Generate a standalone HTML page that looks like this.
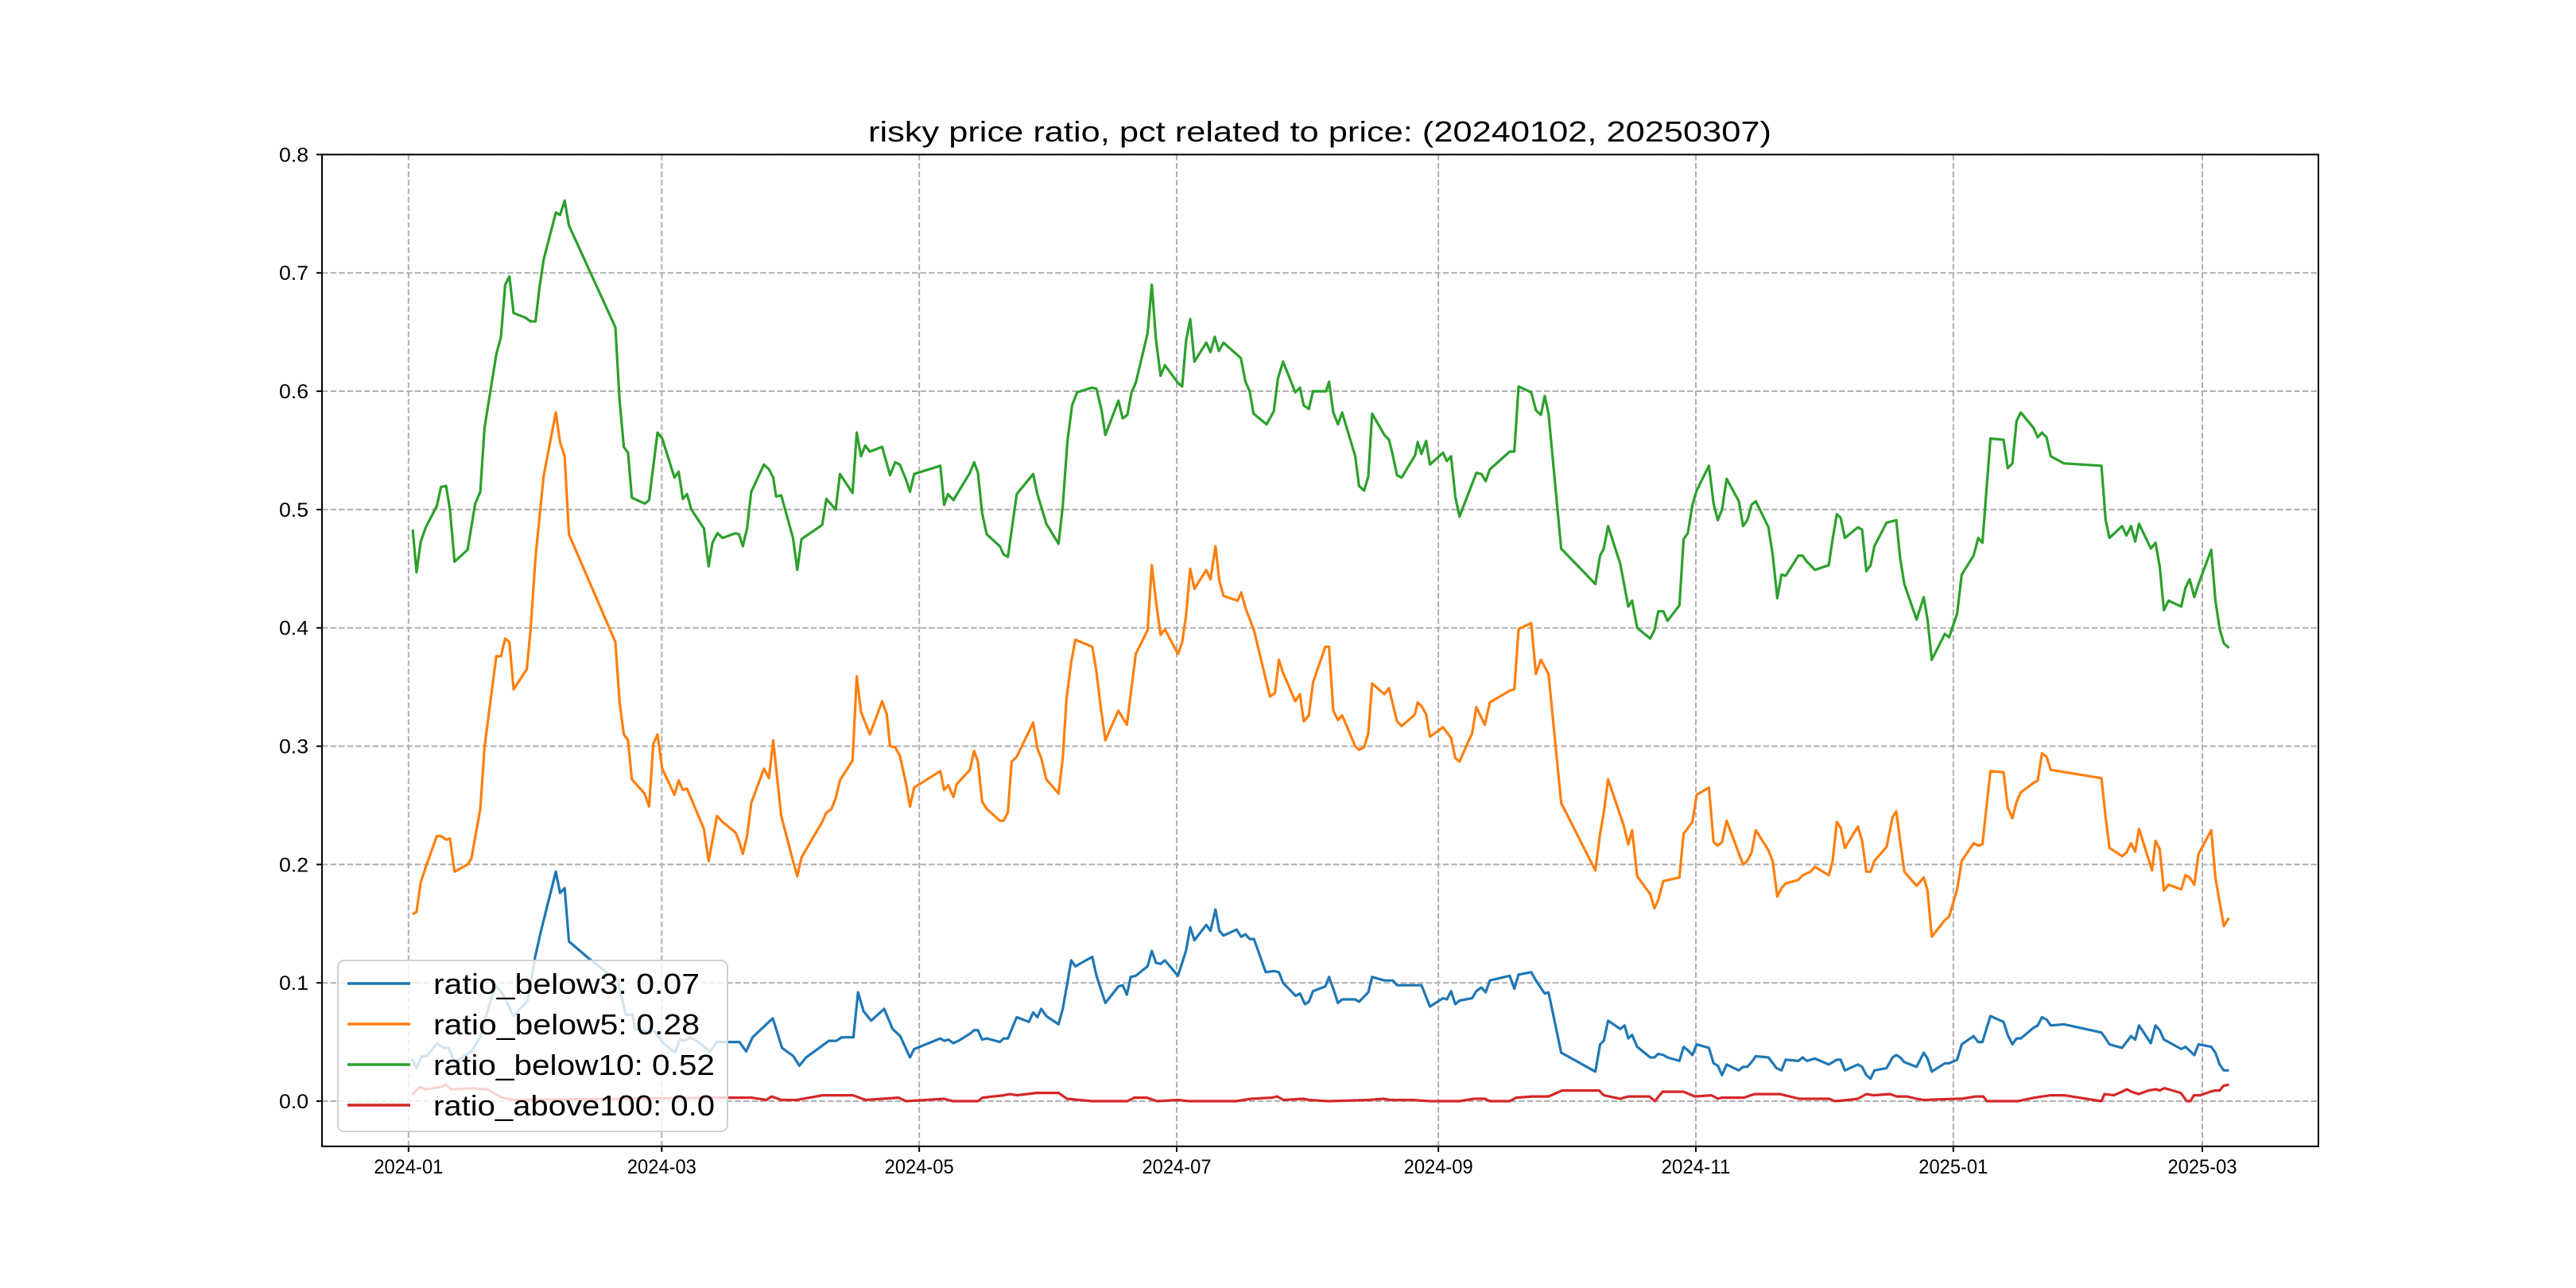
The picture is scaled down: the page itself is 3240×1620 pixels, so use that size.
<!DOCTYPE html>
<html><head><meta charset="utf-8"><title>risky price ratio</title>
<style>html,body{margin:0;padding:0;background:#fff;}svg{display:block;}</style></head>
<body>
<svg id="chart" xmlns="http://www.w3.org/2000/svg" width="3240" height="1620" viewBox="0 0 3240 1620" font-family="'WenQuanYi Zen Hei','Liberation Sans',sans-serif">
<rect x="0" y="0" width="3240" height="1620" fill="#fff"/>
<text x="1660" y="178" text-anchor="middle" font-size="36" textLength="1136" lengthAdjust="spacingAndGlyphs">risky price ratio, pct related to price: (20240102, 20250307)</text>
<g id="grid"></g>
<g id="series"></g>
<rect x="405" y="194.4" width="2511" height="1247.4" fill="none" stroke="#000" stroke-width="2"/>
<g id="ticks"></g>
<g>
<rect x="425" y="1208" width="490" height="215" rx="8" fill="#fff" fill-opacity="0.8" stroke="#d0d0d0" stroke-width="2"/>
<line x1="437" y1="1237" x2="516" y2="1237" stroke="#1f77b4" stroke-width="3.5"/>
<text x="545" y="1250" font-size="36" textLength="335" lengthAdjust="spacingAndGlyphs">ratio_below3: 0.07</text>
<line x1="437" y1="1288" x2="516" y2="1288" stroke="#ff7f0e" stroke-width="3.5"/>
<text x="545" y="1301" font-size="36" textLength="335" lengthAdjust="spacingAndGlyphs">ratio_below5: 0.28</text>
<line x1="437" y1="1339" x2="516" y2="1339" stroke="#2ca02c" stroke-width="3.5"/>
<text x="545" y="1352" font-size="36" textLength="354" lengthAdjust="spacingAndGlyphs">ratio_below10: 0.52</text>
<line x1="437" y1="1390" x2="516" y2="1390" stroke="#d62728" stroke-width="3.5"/>
<text x="545" y="1403" font-size="36" textLength="354" lengthAdjust="spacingAndGlyphs">ratio_above100: 0.0</text>
</g>
</svg>
<script>
// days since 2024-01-01
const xTickLabels = ["2024-01","2024-03","2024-05","2024-07","2024-09","2024-11","2025-01","2025-03"];
const yTickValues = [0.0,0.1,0.2,0.3,0.4,0.5,0.6,0.7,0.8];
const yTickLabels = ["0.0","0.1","0.2","0.3","0.4","0.5","0.6","0.7","0.8"];

const greenDays = [1,1.9,2.9,4.1,6.7,7.7,8.9,9.8,10.9,14,15.8,17,18,20.8,21.9,22.9,23.9,24.9,27.8,28.9,30.1,31,32,34.9,35.9,37,38,49,50,51,52,52.9,56,57,59,60.1,63,64,65,66,67,70,71.1,72,73.2,74.4,77.5,78.3,79.2,80.2,81.2,84.2,85.4,86.4,87.1,88.3,91.1,92.1,93.1,98,99,101.2,102.2,105.2,106.2,107.2,108.2,109.3,112.2,114.1,115.3,116.4,
117.9,118.8,119.8,126,126.9,127.8,129.1,133,134,134.9,135.9,137,140.1,141,142,144.1,148,149,151.1,154,155,156.1,157.2,158.4,161.9,163,164.2,165.1,168.2,169.2,170.3,171.3,172.3,175.1,176.1,177.1,178.2,179.2,182.3,183.3,184.2,185.2,186.2,189,190,191,192,193.1,197.2,198.3,199.3,200.2,203.3,205,206,207.2,210.1,211.2,212.1,213.3,214.3,217.4,218.1,219.1,220.2,221.2,224.3,225.2,226.4,227.4,228.3,231.2,232.3,233.2,234.2,235.3,
238.5,239.1,240,241.1,242,245.1,246,247,248,249,253,254.2,255.2,256.2,260.9,262,263,266,267.1,268.3,269.2,270.1,273.1,281.2,282.3,283.2,284.2,287.1,289,289.9,291.1,294.2,295.2,296.1,297.3,298.3,301.1,302.1,303.1,304.2,305.2,308.1,309.2,310.2,311.2,312.3,315.2,316.2,317.2,318.2,319.2,322.2,323.2,324.3,325.3,326.3,329.3,330.3,331.3,333.2,336.5,337.4,338.4,339.3,340.3,343.4,344.4,345.4,346.4,347.3,350.2,352.5,353.4,354.4,357.3,
359,359.9,360.9,364,365,366.9,368,370.8,371.9,372.9,374.8,377.9,378.9,380,381,382,385,386,387,388.1,389.1,392.2,401.1,402.1,403,406,407,408.1,409.1,410,412.8,413.9,414.9,415.9,417,420,421,422,423.1,424.1,427.1,428.1,429.1,430.1,431.3];
const greenVals = [.483,.447,.473,.485,.503,.519,.520,.500,.456,.466,.505,.515,.569,.631,.646,.690,.697,.666,.662,.659,.659,.687,.711,.751,.749,.761,.740,.654,.592,.553,.548,.510,.505,.508,.565,.560,.527,.532,.509,.513,.500,.484,.452,.472,.480,.476,.480,.479,.469,.484,.515,.538,.534,.527,.511,.512,.476,.449,.475,.487,.509,.500,.530,.514,.565,.545,.554,.549,.553,.529,.540,.538,
.525,.515,.530,.537,.504,.513,.508,.531,.540,.531,.497,.479,.469,.462,.460,.513,.530,.513,.488,.471,.503,.557,.588,.599,.603,.602,.584,.563,.592,.577,.580,.599,.607,.649,.690,.643,.613,.622,.607,.604,.642,.661,.625,.641,.633,.646,.634,.641,.628,.608,.600,.581,.572,.583,.611,.625,.599,.603,.588,.585,.600,.600,.608,.582,.572,.582,.545,.520,.516,.528,.581,.563,.559,.546,.529,.527,
.546,.557,.547,.558,.538,.548,.541,.545,.511,.494,.531,.530,.524,.534,.549,.549,.604,.599,.584,.580,.596,.581,.467,.437,.461,.467,.486,.454,.418,.423,.400,.391,.398,.414,.414,.406,.419,.475,.480,.504,.516,.537,.505,.491,.500,.526,.507,.486,.491,.504,.507,.485,.462,.425,.445,.444,.461,.461,.456,.449,.453,.475,.496,.493,.476,.485,.483,.448,.453,.469,.489,.491,.459,.437,.407,
.426,.407,.373,.395,.392,.412,.445,.461,.476,.472,.560,.559,.535,.539,.575,.582,.569,.561,.565,.561,.545,.539,.537,.491,.476,.486,.478,.486,.473,.488,.467,.472,.452,.415,.423,.418,.434,.441,.426,.437,.466,.423,.399,.387,.383];

const orangeDays = [1,1.9,2.9,4.1,6.7,7.7,8.9,9.8,10.9,14,14.9,17,18,20.8,21.9,22.9,23.9,24.9,28,28.9,30.1,32,34.9,35.9,37,38,49,50,51,52,52.9,55.9,57,58,59,60.1,63,64,65,66,70,71.1,73.1,74.4,77.5,78.3,79.2,80.2,81.2,84.2,85.4,86.4,88.3,91.1,92.1,93.1,98,99,100.2,101.2,102.2,105.2,106.2,107.2,109.3,112.2,113.3,114.1,115.3,116.4,
117.9,118.8,119.8,126,126.9,127.9,129.1,129.9,133,134,134.9,135.9,137,140.1,141,142,142.9,144.1,148,149,149.9,151.1,154,155,155.9,157,158,162,163,164,165.1,168.2,170.2,172.3,175.1,176.1,177.1,178.2,179.2,182.3,183.3,184.2,185.2,186.2,189,190,191.2,192.1,193.1,196.4,197.3,198.3,200.3,204.1,205.3,206.2,207.2,210.1,211.2,212.1,213.3,214.3,217.2,218.1,219.1,220.2,221.2,224.3,225.2,226.4,227.4,228.3,231.2,232.3,234.2,235.3,238.2,
238.5,239.1,240,241.1,242,245.1,247,248,249,252,253,255,256.2,260.9,262,263,266,267.1,268.3,269.2,270.1,273.1,281.2,282.3,283.2,284.2,287.9,289,289.9,291.1,294.2,295.2,296.1,297.3,301.1,302.1,304.2,305.2,308.1,309.2,310.2,311.2,312.3,316.2,317.2,318.2,319.2,322.2,323.2,324.3,325.3,326.3,329.3,330.3,332.2,333.2,336.5,337.4,338.4,339.3,340.3,343.4,344.4,345.4,346.4,347.3,350.2,351.6,352.5,353.4,354.4,357.3,
359,359.9,360.9,364,365,366.9,368,370.8,371.9,372.9,374.8,377.9,378.9,380,381,382,385,386,387,388.1,389.1,401.1,402.1,403,406,407,408.1,409.1,410,413.1,413.9,414.9,415.9,417,420,421,422,423.1,424.1,427.1,428.1,429.1,430.1,431.3];
const orangeVals = [.158,.160,.185,.198,.224,.224,.221,.222,.194,.200,.205,.247,.299,.376,.376,.391,.388,.348,.365,.397,.460,.528,.582,.557,.545,.479,.388,.337,.310,.305,.272,.260,.249,.302,.310,.281,.259,.271,.263,.264,.230,.203,.241,.236,.227,.220,.209,.224,.252,.281,.273,.305,.241,.203,.190,.206,.236,.244,.247,.256,.271,.288,.359,.329,.310,.338,.327,.300,.299,.292,
.268,.249,.265,.279,.263,.267,.257,.268,.280,.296,.287,.253,.247,.237,.237,.244,.287,.291,.320,.298,.290,.272,.260,.290,.340,.371,.390,.384,.363,.333,.305,.330,.318,.378,.398,.453,.422,.394,.399,.378,.388,.410,.450,.433,.449,.441,.469,.440,.427,.423,.430,.417,.398,.342,.345,.373,.362,.338,.344,.321,.326,.354,.384,.384,.330,.322,.326,.300,.297,.299,.311,.353,.344,.349,.321,.317,.326,
.328,.337,.334,.327,.308,.316,.307,.290,.287,.311,.333,.318,.337,.347,.348,.399,.404,.361,.373,.367,.361,.252,.195,.226,.244,.272,.233,.217,.229,.190,.175,.163,.170,.186,.189,.226,.236,.259,.265,.219,.216,.219,.237,.200,.203,.210,.229,.212,.203,.173,.180,.184,.187,.191,.194,.198,.191,.203,.236,.231,.214,.232,.220,.194,.194,.203,.215,.240,.245,.220,.194,.182,
.189,.178,.139,.153,.156,.179,.203,.218,.216,.217,.279,.278,.248,.239,.253,.261,.269,.271,.294,.291,.280,.273,.240,.214,.207,.210,.218,.211,.230,.195,.220,.213,.178,.183,.179,.191,.189,.183,.209,.229,.189,.168,.148,.155];

const blueDays = [0.8,1.9,3.1,4.3,6.8,8.3,9.5,10.9,14.9,17.1,18.6,20.7,22.4,24.9,28.2,30,31.4,34.9,35.9,37,38,42.9,49.5,51.5,53.1,53.7,57.1,58.3,60.4,63.1,64.3,65.5,66.7,68.2,71.5,73,78.4,80,81.5,86.3,88.5,91.2,92.6,94.2,99.6,101.4,102.6,105.4,106.5,107.8,109.6,112.7,114.7,116.5,
117.9,118.8,119.8,126,126.9,127.9,129.1,130.3,133,134,134.9,135.9,137,140.1,141,142,144.1,147,148,149,149.9,151.1,154,155,156.1,157,158,162,163,164,165.1,168.2,169.2,170.2,171.1,172.3,175.1,176.1,177.1,178.2,179.2,182.3,183.3,184.2,185.2,186.2,189,190,191.2,192.1,193.1,196.2,197.3,198.3,199.3,200.3,203.1,205,206.2,207.2,210.2,211.2,212.4,213.3,214.3,217.2,218.1,219.1,220.2,221.2,224.3,225.2,227.4,228.3,231.2,233.2,234.2,
238.5,240,242,245.1,246,247,248,249,252,253,254.2,255.2,256.2,260.9,262,263,266,267.1,269.2,270.1,273.1,281.2,282.3,283.2,284.2,287.1,288.1,289,289.9,291.1,294.2,295.2,296.1,297.3,298.3,301.1,302.1,303.1,304.2,305.2,308.1,309.2,310.2,311.2,312.3,315.2,316.2,317.2,318.2,319.2,322.2,324.1,325.3,326.3,329.3,330.3,331.3,333.2,336.5,338.4,339.3,340.3,343.4,344.4,345.4,346.4,347.3,350.2,351.6,352.5,353.4,354.4,357.3,
359,359.9,360.9,364,365,366.9,368,370.8,371.9,372.9,374.8,377.9,378.9,380,381,382,385,386,387,388.1,389.1,392.2,401.1,402.1,403,406,408.1,409.1,410,412.8,413.9,414.9,415.9,417,420,421,423.1,424.1,427.1,428.1,429.1,430.1,431.3];
const blueVals = [.036,.028,.038,.038,.049,.045,.045,.033,.042,.055,.075,.098,.090,.072,.085,.122,.144,.194,.176,.180,.135,.120,.102,.073,.073,.061,.058,.059,.049,.041,.052,.051,.054,.051,.042,.050,.050,.042,.054,.070,.045,.038,.030,.037,.051,.051,.054,.054,.092,.076,.068,.078,.061,.055,
.044,.037,.044,.053,.051,.052,.049,.051,.057,.060,.060,.052,.053,.050,.053,.053,.071,.067,.075,.071,.078,.072,.065,.078,.100,.119,.114,.122,.106,.095,.083,.097,.098,.090,.105,.106,.114,.127,.117,.116,.119,.106,.117,.127,.147,.136,.149,.144,.162,.144,.140,.145,.139,.141,.137,.137,.109,.110,.109,.100,.089,.091,.082,.084,.093,.097,.105,.095,.083,.086,.086,.084,.092,.105,.102,.102,.098,
.098,.098,.080,.087,.086,.093,.082,.085,.087,.093,.096,.092,.102,.106,.095,.107,.109,.102,.091,.092,.041,.025,.048,.051,.068,.061,.064,.053,.056,.046,.037,.037,.040,.039,.037,.034,.046,.043,.039,.048,.045,.032,.030,.022,.031,.026,.029,.029,.033,.038,.037,.028,.026,.035,.034,.037,.034,.036,.031,.035,.035,.026,.031,.029,.022,.019,.026,.028,.037,.039,.037,.033,.029,
.041,.036,.025,.032,.032,.035,.048,.055,.050,.050,.072,.067,.056,.048,.053,.053,.062,.064,.071,.069,.064,.065,.058,.053,.048,.045,.055,.052,.064,.049,.064,.060,.052,.050,.044,.046,.039,.048,.046,.041,.031,.026,.026];

const redDays = [0.8,2.6,4.1,7.7,8.9,10.1,14.9,18.6,22.2,25.2,72.8,81.2,84.8,86,88.4,92,98.1,105.3,108.3,116.1,
117.9,126.9,129,134.9,136,141,142.5,144.1,148.8,154,156,162,170.3,172,175,177.3,182.3,185,196,199.7,204.6,205.8,207.3,212,213.3,218,227.4,231,232.6,238,
242,249,252.4,255,256.2,260.9,262.4,266.2,270.1,273.3,282.1,283.2,287.1,289,294,295.3,297.1,302.1,304.8,308.7,310.2,311,316.4,318,319,324.9,329.5,336.5,338,341,343.4,345.4,347,351,352.6,355,357.3,
359,366.7,368,371.3,373.1,374,381.3,385.2,389.1,392.2,401.1,401.8,404,406,407.1,408.2,409.9,412.2,414.1,414.9,416,417,419.9,421.3,422.2,423,424.5,426.9,428,429.1,430,431.3];
const redVals = [.005,.012,.010,.012,.014,.010,.011,.010,.003,.001,.003,.003,.001,.004,.001,.001,.005,.005,.001,.003,
0,.002,0,0,.003,.005,.006,.005,.007,.007,.002,0,0,.003,.003,0,.001,0,0,.002,.003,.004,.001,.002,.001,0,.001,.002,.001,.001,
0,0,.002,.002,0,0,.003,.004,.004,.009,.009,.005,.002,.004,.004,0,.008,.008,.004,.005,.002,.003,.003,.005,.006,.006,.002,.002,0,.001,.002,.006,.005,.006,.004,.004,.002,
.001,.002,.002,.004,.004,0,0,.003,.005,.005,0,.006,.005,.008,.010,.008,.006,.009,.010,.009,.011,.010,.007,0,0,.005,.005,.008,.009,.009,.013,.014];

const NS = "http://www.w3.org/2000/svg";
const AX = {left:405, right:2916, top:194.4, bottom:1441.8};
const xMin = -20.5, xMax = 452.5, yMin = -0.03815, yMax = 0.8;
function xScale(d){ return AX.left + (d - xMin) / (xMax - xMin) * (AX.right - AX.left); }
function yScale(v){ return AX.bottom - (v - yMin) / (yMax - yMin) * (AX.bottom - AX.top); }
function dayOf(label){ const p = label.split('-'); return (Date.UTC(+p[0], +p[1]-1, 1) - Date.UTC(2024,0,1)) / 86400000; }

const grid = document.getElementById('grid');
const ticks = document.getElementById('ticks');
const seriesG = document.getElementById('series');

xTickLabels.forEach(function(lab){
  const x = xScale(dayOf(lab));
  const g = document.createElementNS(NS,'line');
  
  
  g.setAttribute('x1', x); g.setAttribute('x2', x);
  g.setAttribute('y1', AX.top); g.setAttribute('y2', AX.bottom);
  g.setAttribute('stroke', '#b0b0b0'); g.setAttribute('stroke-width', '2'); g.setAttribute('stroke-dasharray', '7.4,3.2');
  grid.appendChild(g);
  const t = document.createElementNS(NS,'line');
  
  
  t.setAttribute('x1', x); t.setAttribute('x2', x);
  t.setAttribute('y1', AX.bottom); t.setAttribute('y2', AX.bottom + 7);
  t.setAttribute('stroke', '#000'); t.setAttribute('stroke-width', '2');
  ticks.appendChild(t);
  const tx = document.createElementNS(NS,'text');
  
  
  tx.setAttribute('x', x); tx.setAttribute('y', AX.bottom + 34);
  tx.setAttribute('text-anchor', 'middle'); tx.setAttribute('font-size', '25');
  tx.setAttribute('textLength', '87'); tx.setAttribute('lengthAdjust', 'spacingAndGlyphs');
  tx.textContent = lab;
  ticks.appendChild(tx);
});

yTickValues.forEach(function(v, i){
  const y = yScale(v);
  const g = document.createElementNS(NS,'line');
  
  
  g.setAttribute('x1', AX.left); g.setAttribute('x2', AX.right);
  g.setAttribute('y1', y); g.setAttribute('y2', y);
  g.setAttribute('stroke', '#b0b0b0'); g.setAttribute('stroke-width', '2'); g.setAttribute('stroke-dasharray', '7.4,3.2');
  grid.appendChild(g);
  const t = document.createElementNS(NS,'line');
  
  
  t.setAttribute('x1', AX.left - 7); t.setAttribute('x2', AX.left);
  t.setAttribute('y1', y); t.setAttribute('y2', y);
  t.setAttribute('stroke', '#000'); t.setAttribute('stroke-width', '2');
  ticks.appendChild(t);
  const tx = document.createElementNS(NS,'text');
  
  
  tx.setAttribute('x', AX.left - 17); tx.setAttribute('y', y + 9);
  tx.setAttribute('text-anchor', 'end'); tx.setAttribute('font-size', '25');
  tx.setAttribute('textLength', '37'); tx.setAttribute('lengthAdjust', 'spacingAndGlyphs');
  tx.textContent = yTickLabels[i];
  ticks.appendChild(tx);
});

function drawSeries(days, vals, color, name){
  let d = '';
  for (let i = 0; i < days.length && i < vals.length; i++){
    d += (i ? 'L' : 'M') + xScale(days[i]).toFixed(1) + ',' + yScale(vals[i]).toFixed(1);
  }
  const p = document.createElementNS(NS,'path');
  
  
  p.setAttribute('d', d);
  p.setAttribute('fill', 'none'); p.setAttribute('stroke', color);
  p.setAttribute('stroke-width', '3.2'); p.setAttribute('stroke-linejoin', 'round');
  seriesG.appendChild(p);
}
drawSeries(blueDays, blueVals, '#1f77b4', 'line-ratio-below3');
drawSeries(orangeDays, orangeVals, '#ff7f0e', 'line-ratio-below5');
drawSeries(greenDays, greenVals, '#2ca02c', 'line-ratio-below10');
drawSeries(redDays, redVals, '#d62728', 'line-ratio-above100');
</script>
</body></html>
